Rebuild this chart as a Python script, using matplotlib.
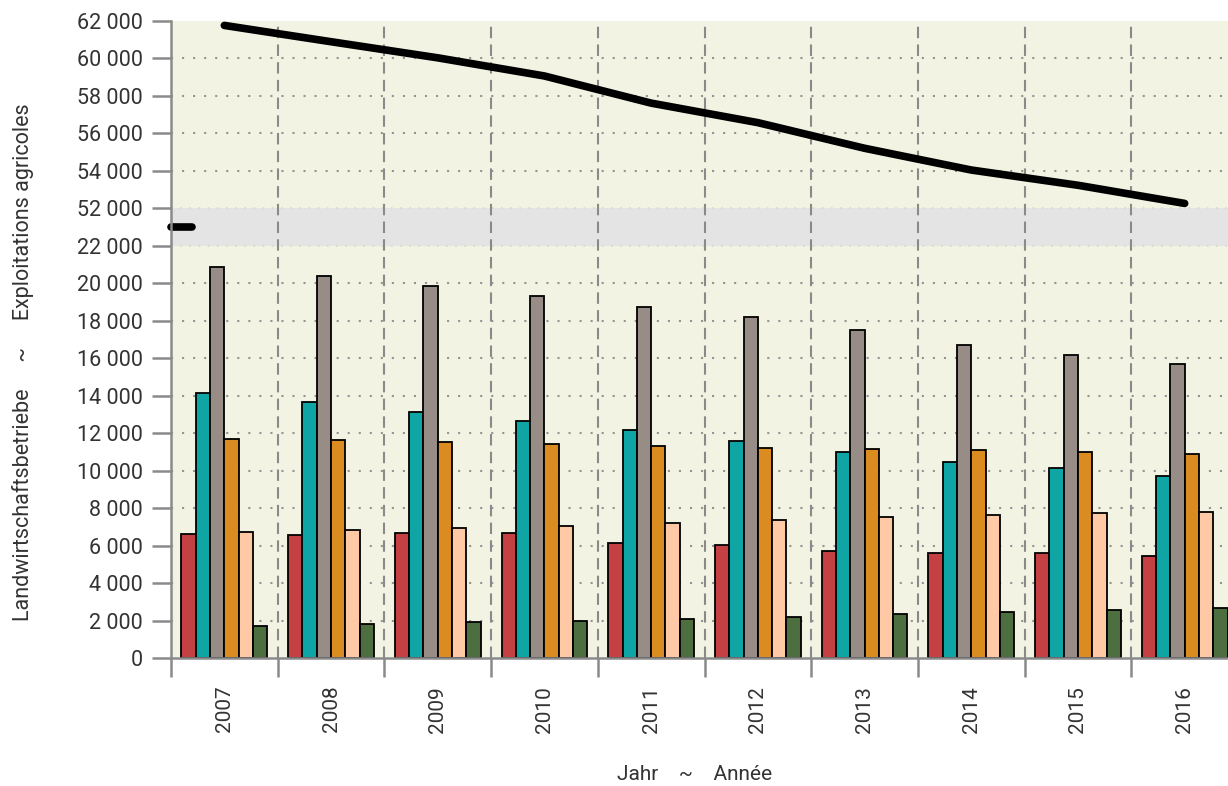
import matplotlib.pyplot as plt
import numpy as np

plt.rcParams["font.family"] = ["Roboto", "DejaVu Sans"]

# Landwirtschaftsbetriebe nach Grössenklasse, 2007-2016
years = ["2007", "2008", "2009", "2010", "2011", "2012", "2013", "2014", "2015", "2016"]
total = [61764, 60894, 60034, 59065, 57617, 56575, 55207, 54046, 53232, 52263]

cls_red = [6620, 6565, 6650, 6650, 6120, 6030, 5730, 5600, 5580, 5440]
cls_teal = [14140, 13660, 13130, 12650, 12150, 11600, 11020, 10460, 10140, 9710]
cls_gray = [20870, 20390, 19860, 19300, 18740, 18200, 17500, 16710, 16170, 15690]
cls_orange = [11690, 11640, 11530, 11430, 11330, 11200, 11150, 11100, 11000, 10890]
cls_peach = [6730, 6830, 6940, 7050, 7200, 7370, 7500, 7630, 7740, 7790]
cls_green = [1710, 1815, 1920, 1990, 2100, 2200, 2330, 2455, 2560, 2670]

series = [cls_red, cls_teal, cls_gray, cls_orange, cls_peach, cls_green]
colors = ["#C44042", "#10A5A5", "#978C86", "#DA8C20", "#FFC9A5", "#4D6E3E"]

# axis break: 22 000 .. 52 000 is squeezed into a band of 2 000
brk_lo, brk_hi = 22000, 52000
gap = 2000
shift = brk_hi - brk_lo - gap


def fold(v):
    v = np.asarray(v, dtype=float)
    return np.where(v <= brk_lo, v, v - shift)


fig = plt.figure(figsize=(12.28, 7.86), dpi=100)
ax = fig.add_axes([171 / 1228, 128 / 786, 1 - 171 / 1228, (658 - 21) / 786])
ax.set_facecolor("#F3F3E3")

x = np.arange(len(years))
w = 0.134
for k, (vals, c) in enumerate(zip(series, colors)):
    ax.bar(x + (k - 2.5) * w, vals, width=w, color=c, edgecolor="black",
           linewidth=1.3, zorder=3)

ax.axhspan(brk_lo, brk_lo + gap, color="#E4E4E4", zorder=1, lw=0)

ax.plot(x, fold(total), color="black", lw=5.5, solid_capstyle="round", zorder=4)
# stub of the line inside the break band
ax.plot([-0.5, -0.3], [brk_lo + gap / 2] * 2, color="black", lw=5.5,
        solid_capstyle="round", zorder=4, clip_on=False)

lo_ticks = list(range(0, 22001, 2000))
hi_ticks = list(range(52000, 62001, 2000))
ax.set_yticks(list(lo_ticks) + list(fold(hi_ticks)))
ax.set_yticklabels([f"{v:,}".replace(",", " ") for v in lo_ticks + hi_ticks])
ax.set_ylim(0, 62000 - shift)

for v in lo_ticks[1:-1] + list(fold(hi_ticks[1:-1])):
    ax.axhline(v, color="#949494", lw=1.5, ls=(0, (1, 4.3)), zorder=2)
for v in [brk_lo, brk_lo + gap]:
    ax.axhline(v, color="#D8D8C8", lw=1.2, ls=(0, (1, 4.5)), zorder=2)

ax.set_xlim(-0.5, -0.5 + 1057 / 106.7)
ax.set_xticks(np.arange(-0.5, 9.5, 1.0))
ax.set_xticklabels([])
ax.set_xticks(x, minor=True)
ax.set_xticklabels(years, minor=True, rotation=90)
for b in np.arange(0.5, 9.5, 1.0):
    ax.axvline(b, color="#8A8A8A", lw=1.5, ls=(0, (5.5, 3)), zorder=2)

ax.tick_params(axis="x", which="major", length=14, width=1.8, color="#8A8A8A")
ax.tick_params(axis="x", which="minor", length=0, pad=20, labelsize=15,
               labelcolor="#333333")
ax.tick_params(axis="y", length=14, width=1.8, color="#8A8A8A", labelsize=15.5,
               labelcolor="#333333", pad=6)

for s in ["top", "right"]:
    ax.spines[s].set_visible(False)
for s in ["left", "bottom"]:
    ax.spines[s].set_color("#8A8A8A")
    ax.spines[s].set_linewidth(1.8)
    ax.spines[s].set_zorder(5)

fig.text(23 / 1228, 1 - 362 / 786,
         "Landwirtschaftsbetriebe     ~     Exploitations agricoles",
         rotation=90, ha="center", va="center", fontsize=15.5, color="#333333")
fig.text(695 / 1228, 1 - 775 / 786, "Jahr    ~    Année", ha="center",
         va="center", fontsize=15, color="#333333")

fig.savefig("out.png", dpi=100)
